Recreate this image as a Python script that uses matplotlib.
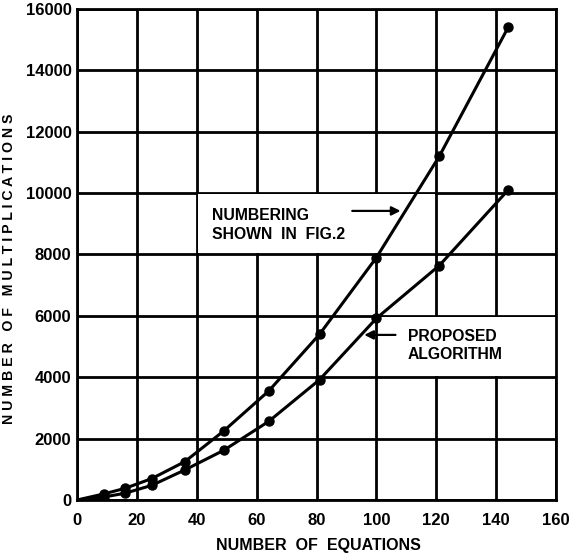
import numpy as np
import matplotlib
matplotlib.use("Agg")
import matplotlib.pyplot as plt
from matplotlib.patches import Rectangle

# datos (x = numero de ecuaciones)
equations = [0, 9, 16, 25, 36, 49, 64, 81, 100, 121, 144]
mult_fig2 = [0, 200, 380, 700, 1250, 2250, 3550, 5400, 7900, 11200, 15400]
mult_proposed = [0, 100, 220, 480, 980, 1620, 2560, 3920, 5920, 7640, 10100]

x_ticks = [0, 20, 40, 60, 80, 100, 120, 140, 160]
y_ticks = [0, 2000, 4000, 6000, 8000, 10000, 12000, 14000, 16000]

plt.rcParams['font.family'] = ['Liberation Sans', 'DejaVu Sans']
plt.rcParams['font.weight'] = 'bold'

fig = plt.figure(figsize=(5.75, 5.53), dpi=100)
ax = fig.add_axes([0.134, 0.0958, 0.833, 0.888])
ax.set_axisbelow(True)

for ys in (mult_fig2, mult_proposed):
    ax.plot(equations, ys, color='black', lw=2.2, marker='o', markersize=6.5,
            markevery=list(range(1, len(equations))), zorder=3)

ax.set_xlim(0, 160)
ax.set_ylim(0, 16000)
ax.set_xticks(x_ticks)
ax.set_yticks(y_ticks)
ax.grid(True, color='black', lw=2)
for s in ax.spines.values():
    s.set_linewidth(2)
ax.tick_params(axis='x', length=0, labelsize=12, pad=9)
ax.tick_params(axis='y', length=0, labelsize=12, pad=4)
for lab in ax.get_xticklabels() + ax.get_yticklabels():
    lab.set_fontweight('bold')

ax.set_xlabel("NUMBER  OF  EQUATIONS", fontsize=11.5, fontweight='bold')
ax.xaxis.set_label_coords(0.505, -0.078)
ax.set_ylabel("N U M B E R   O F   M U L T I P L I C A T I O N S", fontsize=10.2, fontweight='bold')
ax.yaxis.set_label_coords(-0.128, 0.47)

# celdas en blanco detras de los textos
ax.add_patch(Rectangle((40.4, 8040), 79.2, 1920, facecolor='white', edgecolor='none', zorder=1))
ax.add_patch(Rectangle((100.4, 4040), 59.6, 1920, facecolor='white', edgecolor='none', zorder=1))

ax.text(45, 8960, "NUMBERING\nSHOWN  IN  FIG.2", fontsize=11.3, fontweight='bold',
        va='center', ha='left', linespacing=1.4, zorder=2)
ax.annotate("", xy=(109, 9420), xytext=(91, 9420),
            arrowprops=dict(arrowstyle='-|>', color='black', lw=1.6, mutation_scale=13), zorder=4)

ax.text(110.5, 5050, "PROPOSED\nALGORITHM", fontsize=11.3, fontweight='bold',
        va='center', ha='left', linespacing=1.25, zorder=2)
ax.annotate("", xy=(95, 5380), xytext=(107.3, 5380),
            arrowprops=dict(arrowstyle='-|>', color='black', lw=1.6, mutation_scale=13), zorder=4)

fig.savefig("out.png", dpi=100)
